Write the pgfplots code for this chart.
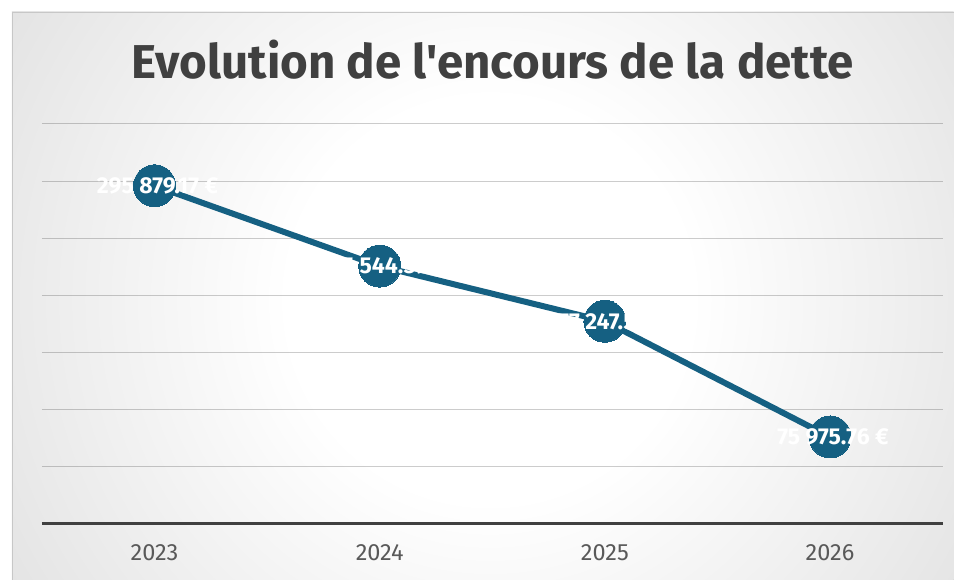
\documentclass[border=0pt]{standalone}
\usepackage{pgfplots}
\pgfplotsset{compat=1.18}
\usepackage{fontspec}
\setmainfont{Fira Sans}[Ligatures=TeXOff]
\definecolor{accent}{HTML}{156082}
\definecolor{titlegray}{HTML}{404040}
\definecolor{tickgray}{HTML}{595959}
\definecolor{bggray}{HTML}{B9B9B9}
\definecolor{axisdark}{HTML}{404040}
\pgfdeclareradialshading{bgshade}{\pgfpoint{0bp}{0bp}}{color(0bp)=(white); color(9bp)=(white); color(50bp)=(bggray)}
\pgfplotstableread{
x y label
0 295879.17 {295 879.17 €}
1 225544.39 {225 544.39 €}
2 177247.58 {177 247.58 €}
3 75975.76 {75 975.76 €}
}\debttable
\begin{document}
\begin{tikzpicture}[x=1bp,y=1bp]
\fill[white] (0,0) rectangle (954,580);
\begin{scope}
\clip (12,0) rectangle (954,568);
\fill[bggray] (12,0) rectangle (954,568);
\shade[shading=bgshade] (490,280) circle (560);
\end{scope}
\draw[color=black!22, line width=0.8bp] (12,0) -- (12,568) -- (954,568);
\node[font=\bfseries\fontsize{47.5bp}{52bp}\selectfont, text=titlegray] at (493,520) {Evolution de l'encours de la dette};
\begin{axis}[
  at={(42bp,56bp)}, anchor=south west,
  scale only axis, width=901bp, height=400bp,
  xmin=-0.5, xmax=3.5, ymin=0, ymax=350000,
  ytick={50000,100000,150000,200000,250000,300000,350000},
  scaled y ticks=false,
  yticklabels={},
  xtick={0,1,2,3},
  xticklabels={2023,2024,2025,2026},
  major tick length=0pt,
  axis line style={draw=none},
  ymajorgrids,
  grid style={color=black, opacity=0.2, line width=1bp},
  xticklabel style={font=\fontsize{23.5bp}{27bp}\selectfont, text=tickgray, anchor=north, yshift=-17bp},
  clip=false,
]
\draw[line width=3bp, color=axisdark] (axis cs:-0.5,0) -- (axis cs:3.5,0);
\addplot[color=accent, line width=6bp, mark=*, mark size=21bp, mark options={fill=accent, draw=accent, line width=0bp},
  nodes near coords, point meta=explicit symbolic,
  every node near coord/.append style={anchor=center, xshift=3bp, text=white, font=\bfseries\fontsize{23bp}{27bp}\selectfont}]
  table[x=x, y=y, meta=label] {\debttable};
\end{axis}
\end{tikzpicture}
\end{document}
